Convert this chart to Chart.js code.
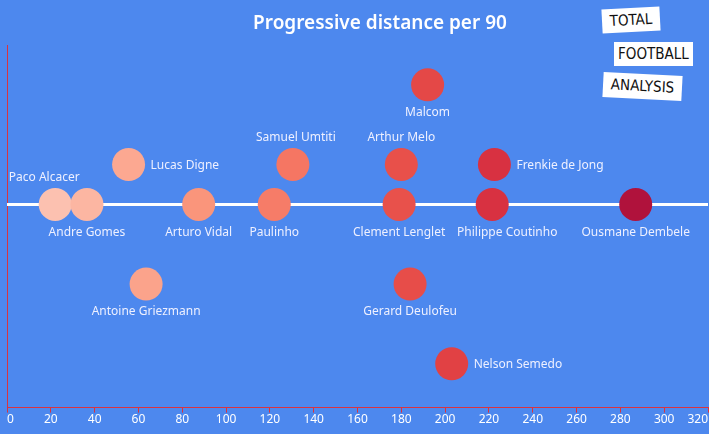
<!DOCTYPE html>
<html>
<head>
<meta charset="utf-8">
<script src="https://cdn.jsdelivr.net/npm/chart.js@4/dist/chart.umd.min.js"></script>
<style>
  html, body { margin: 0; padding: 0; background: #4d88ee; }
  #wrap { position: relative; width: 709px; height: 434px; background: #4d88ee; overflow: hidden; }
  .logo {
    position: absolute; background: #fff; color: #111;
    font-family: "DejaVu Sans Condensed", "DejaVu Sans", sans-serif;
    font-size: 15px; line-height: 24px; text-align: center;
  }
</style>
</head>
<body>
<div id="wrap">
  <canvas id="chart" width="709" height="434"></canvas>
  <div class="logo" style="left:602px;top:8px;width:58px;height:24px;transform:rotate(-3deg);">TOTAL</div>
  <div class="logo" style="left:614px;top:42px;width:79px;height:24px;">FOOTBALL</div>
  <div class="logo" style="left:603px;top:74px;width:79px;height:25px;transform:rotate(3deg);">ANALYSIS</div>
</div>
<script>
const players = ["Paco Alcacer", "Andre Gomes", "Lucas Digne", "Antoine Griezmann", "Arturo Vidal",
  "Paulinho", "Samuel Umtiti", "Clement Lenglet", "Arthur Melo", "Gerard Deulofeu",
  "Malcom", "Nelson Semedo", "Philippe Coutinho", "Frenkie de Jong", "Ousmane Dembele"];
const progDist = [22, 36.5, 55.5, 63.5, 87.5, 122, 130.5, 179, 180, 184, 192, 203, 221.5, 222.5, 287];
const rowLevel = [0, 0, 1, -2, 0, 0, 1, 0, 1, -2, 3, -4, 0, 1, 0];
const xTicks = [0, 20, 40, 60, 80, 100, 120, 140, 160, 180, 200, 220, 240, 260, 280, 300, 320];

// where each name goes relative to its circle
const labelSide = ["above", "below", "right", "below", "below", "below", "above", "below",
  "above", "below", "below", "right", "below", "right", "below"];
const labelShift = [-11, 0, 0, 0, 0, 0, 3, 0, 0, 0, 0, 0, 15, 0, 0];

// colour ramp along the x value
const stops = [
  [20, [252, 195, 178]], [55, [252, 168, 145]], [88, [250, 149, 123]], [125, [246, 122, 102]],
  [180, [232, 80, 74]], [205, [224, 64, 68]], [222, [216, 49, 65]], [287, [176, 18, 60]]
];
function rampColor(v) {
  if (v <= stops[0][0]) return `rgb(${stops[0][1].join(",")})`;
  for (let i = 1; i < stops.length; i++) {
    if (v <= stops[i][0]) {
      const t = (v - stops[i - 1][0]) / (stops[i][0] - stops[i - 1][0]);
      const c = stops[i - 1][1].map((a, k) => Math.round(a + (stops[i][1][k] - a) * t));
      return `rgb(${c.join(",")})`;
    }
  }
  return `rgb(${stops[stops.length - 1][1].join(",")})`;
}

const FONT = "'Noto Sans', 'Open Sans', sans-serif";

const decor = {
  id: "decor",
  beforeDatasetsDraw(chart) {
    const { ctx, chartArea } = chart;
    ctx.save();
    ctx.strokeStyle = "#d9333f";
    ctx.lineWidth = 1;
    ctx.beginPath();
    ctx.moveTo(chartArea.left + 0.5, chartArea.top);
    ctx.lineTo(chartArea.left + 0.5, chartArea.bottom);
    ctx.stroke();
    ctx.restore();
  },
  afterDatasetsDraw(chart) {
    const { ctx } = chart;
    ctx.save();
    ctx.font = "12px " + FONT;
    ctx.fillStyle = "#eef0ff";
    ctx.textBaseline = "middle";
    chart.getDatasetMeta(1).data.forEach((pt, i) => {
      const side = labelSide[i];
      if (side === "right") {
        ctx.textAlign = "left";
        ctx.fillText(players[i], pt.x + 22, pt.y + 1);
      } else {
        ctx.textAlign = "center";
        const dy = side === "above" ? -27 : 28;
        ctx.fillText(players[i], pt.x + labelShift[i], pt.y + dy);
      }
    });
    // title
    ctx.font = "600 19px " + FONT;
    ctx.fillStyle = "#ffffff";
    ctx.textAlign = "center";
    ctx.fillText("Progressive distance per 90", 380, 24);
    ctx.restore();
  }
};

new Chart(document.getElementById("chart"), {
  type: "scatter",
  data: {
    datasets: [
      {
        type: "line",
        data: [{ x: 0, y: 0 }, { x: 320, y: 0 }],
        borderColor: "#ffffff",
        borderWidth: 3,
        pointRadius: 0,
        order: 2
      },
      {
        data: progDist.map((v, i) => ({ x: v, y: rowLevel[i] })),
        backgroundColor: progDist.map(rampColor),
        borderWidth: 0,
        pointRadius: 16.5,
        pointHoverRadius: 16.5,
        order: 1
      }
    ]
  },
  options: {
    responsive: false,
    animation: false,
    layout: { autoPadding: false, padding: { left: 7, right: 1, top: 45, bottom: 7 } },
    plugins: { legend: { display: false }, tooltip: { enabled: false } },
    scales: {
      x: {
        type: "linear",
        min: 0,
        max: 320,
        afterBuildTicks(scale) { scale.ticks = xTicks.map(v => ({ value: v })); },
        border: { color: "#d9333f", width: 1 },
        grid: { drawOnChartArea: false, color: "#d9333f", tickLength: 5 },
        ticks: { color: "#ffffff", font: { size: 12, family: FONT }, align: "inner", padding: 0, maxRotation: 0, autoSkip: false }
      },
      y: {
        display: false,
        min: -5.1,
        max: 4
      }
    }
  },
  plugins: [decor]
});
</script>
</body>
</html>
